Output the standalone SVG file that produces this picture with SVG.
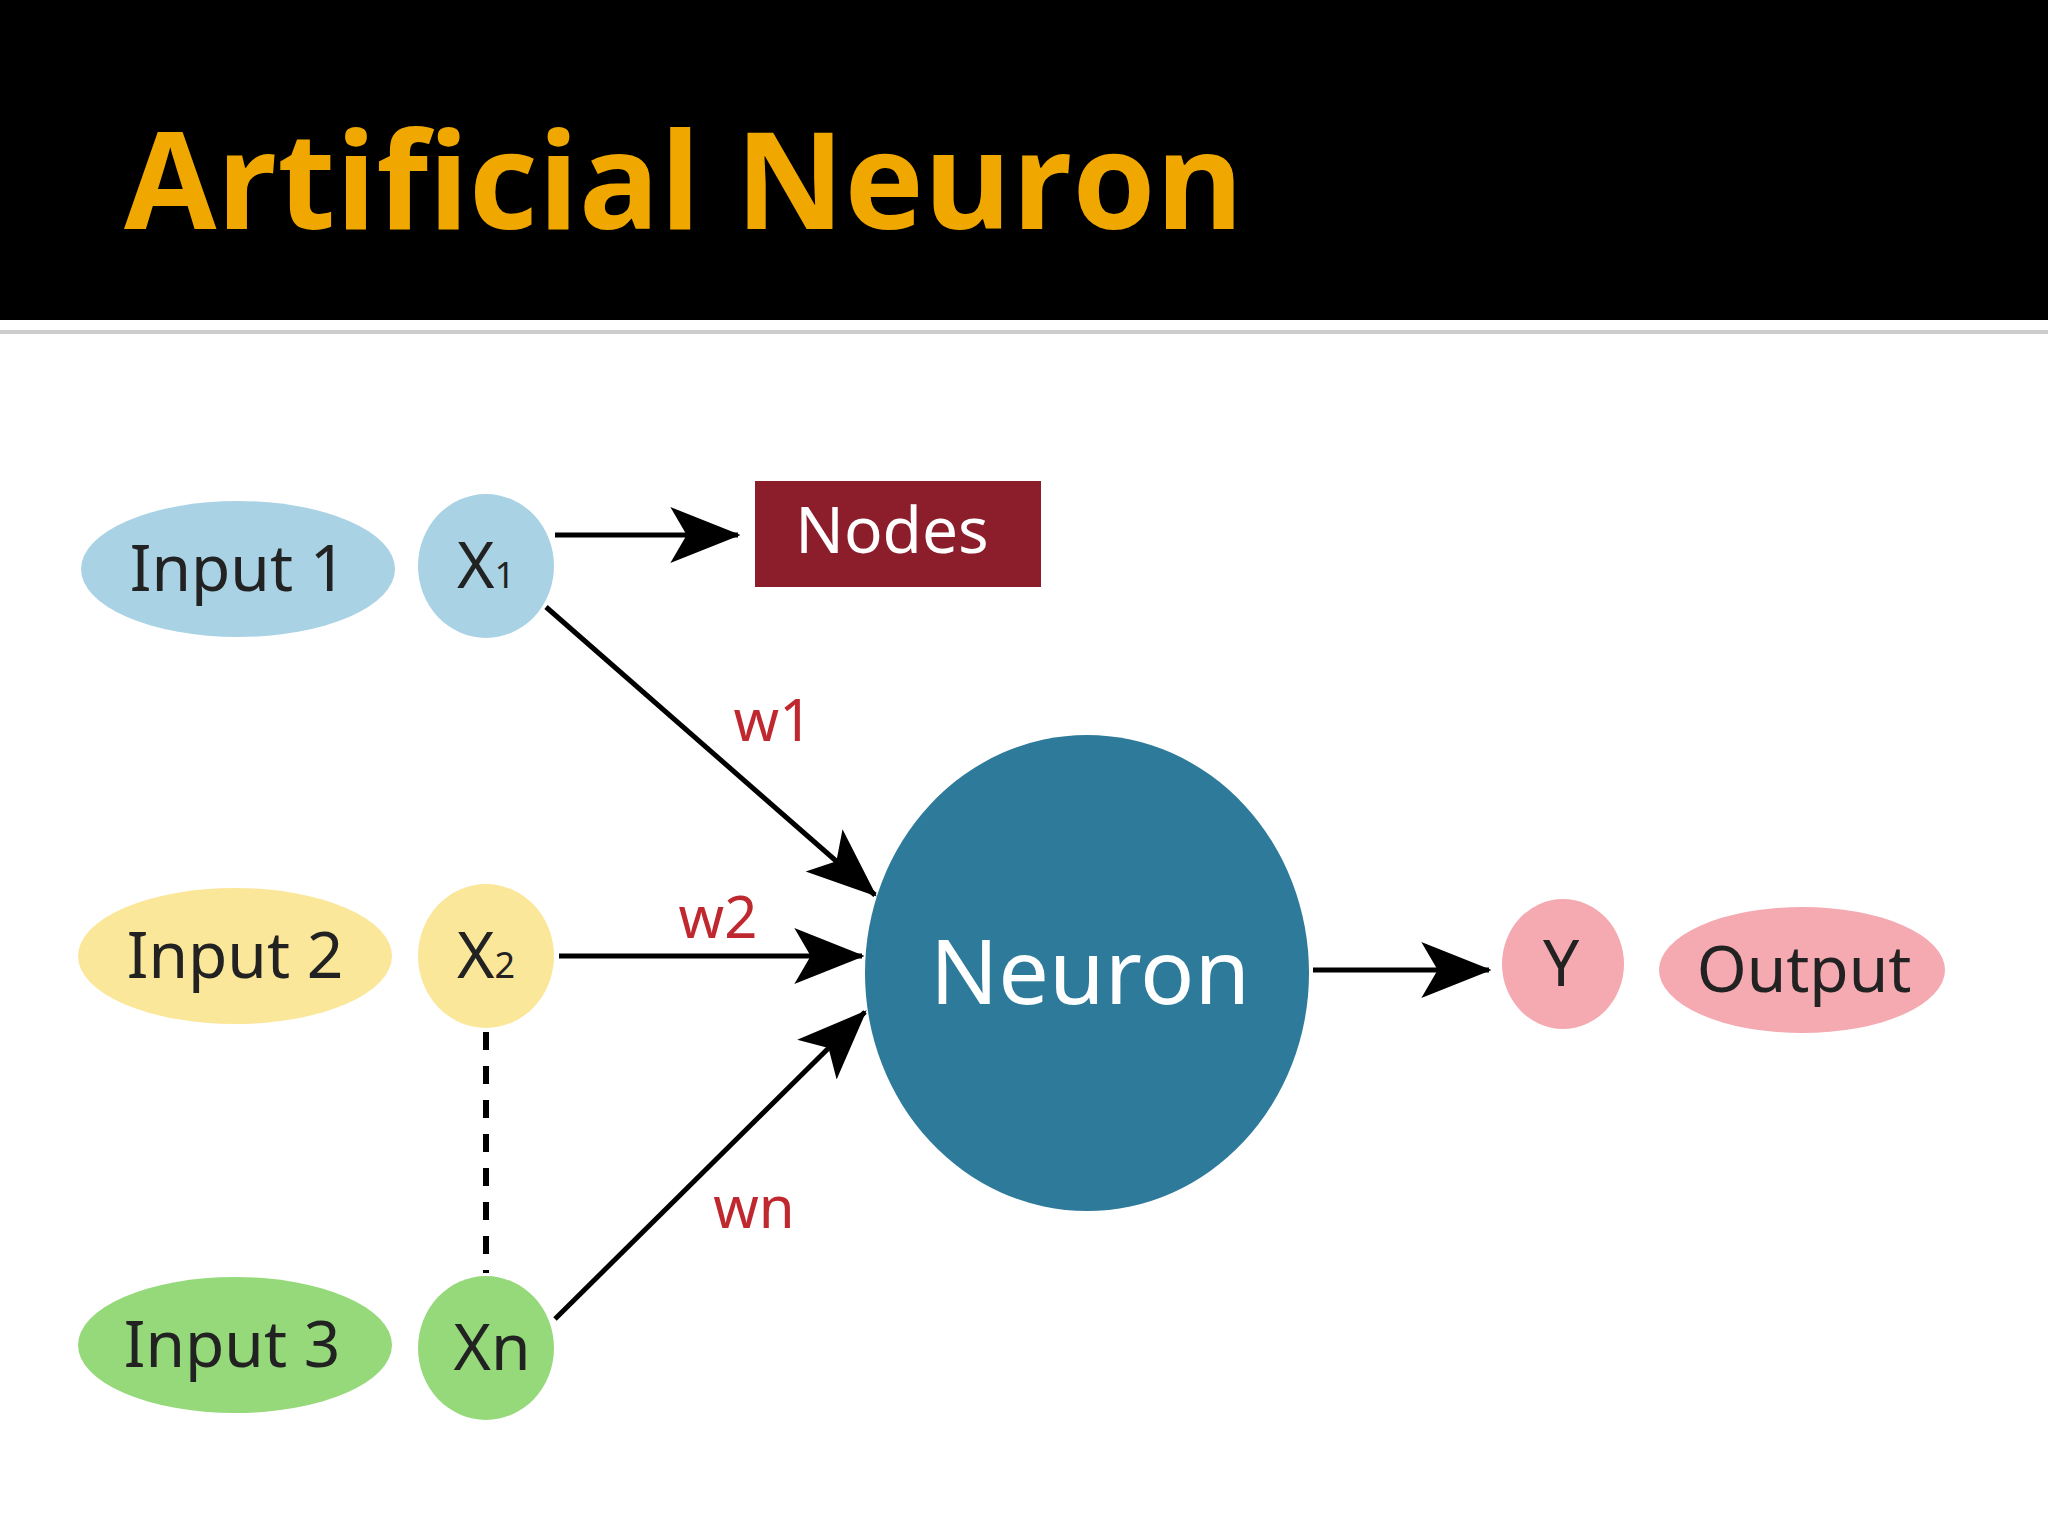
<svg xmlns="http://www.w3.org/2000/svg" width="2048" height="1536" viewBox="0 0 2048 1536">
<defs>
<marker id="ah" markerUnits="userSpaceOnUse" markerWidth="70" markerHeight="70" viewBox="0 0 60 60" refX="58" refY="30" orient="auto">
<path d="M0,6 L60,30 L0,54 L14,30 Z" fill="#000"/>
</marker>
<style>
.lbl{font-family:"Noto Sans","Open Sans",sans-serif;font-size:64px;fill:#222;text-anchor:middle}
.w{font-family:"Noto Sans","Open Sans",sans-serif;font-size:58px;fill:#C0282F;text-anchor:middle}
.edge{stroke:#000;stroke-width:5;fill:none;marker-end:url(#ah)}
</style>
</defs>
<rect width="2048" height="1536" fill="#fff"/>
<rect width="2048" height="320" fill="#000"/>
<rect y="330" width="2048" height="4" fill="#ccc"/>
<text x="124" y="229" font-family="Open Sans, Noto Sans, sans-serif" font-weight="bold" font-size="134" fill="#F0A800">Artificial Neuron</text>

<g id="connectors">
<line class="edge" x1="555" y1="535" x2="738" y2="535"/>
<line class="edge" x1="546" y1="607" x2="875" y2="895"/>
<line class="edge" x1="559" y1="956" x2="862" y2="956"/>
<line class="edge" x1="555" y1="1319" x2="865" y2="1012"/>
<line class="edge" x1="1313" y1="970" x2="1489" y2="970"/>
<line x1="486" y1="1032" x2="486" y2="1273" stroke="#000" stroke-width="6" stroke-dasharray="18,16"/>
<text class="w" x="773" y="741">w1</text>
<text class="w" x="718" y="938">w2</text>
<text class="w" x="754" y="1228">wn</text>
</g>

<g id="input1"><ellipse cx="238" cy="569" rx="157" ry="68" fill="#A9D3E5"/><text class="lbl" x="238" y="591">Input 1</text></g>
<g id="x1"><ellipse cx="486" cy="566" rx="68" ry="72" fill="#A9D3E5"/><text class="lbl" x="486" y="588">X<tspan font-size="36">1</tspan></text></g>
<g id="nodes"><rect x="755" y="481" width="286" height="106" fill="#8B1E2A"/><text class="lbl" x="892" y="553" fill="#fff" style="fill:#fff">Nodes</text></g>
<g id="input2"><ellipse cx="235" cy="956" rx="157" ry="68" fill="#FBE79A"/><text class="lbl" x="235" y="978">Input 2</text></g>
<g id="x2"><ellipse cx="486" cy="956" rx="68" ry="72" fill="#FBE79A"/><text class="lbl" x="486" y="978">X<tspan font-size="36">2</tspan></text></g>
<g id="input3"><ellipse cx="235" cy="1345" rx="157" ry="68" fill="#95D97A"/><text class="lbl" x="232" y="1367">Input 3</text></g>
<g id="xn"><ellipse cx="486" cy="1348" rx="68" ry="72" fill="#95D97A"/><text class="lbl" x="492" y="1370">Xn</text></g>
<g id="neuron"><ellipse cx="1087" cy="973" rx="222" ry="238" fill="#2E7A9A"/><text class="lbl" x="1090" y="1004" style="fill:#fff;font-size:90px">Neuron</text></g>
<g id="y"><ellipse cx="1563" cy="964" rx="61" ry="65" fill="#F4AAB0"/><text class="lbl" x="1561" y="986">Y</text></g>
<g id="output"><ellipse cx="1802" cy="970" rx="143" ry="63" fill="#F4AAB0"/><text class="lbl" x="1804" y="992">Output</text></g>
</svg>
